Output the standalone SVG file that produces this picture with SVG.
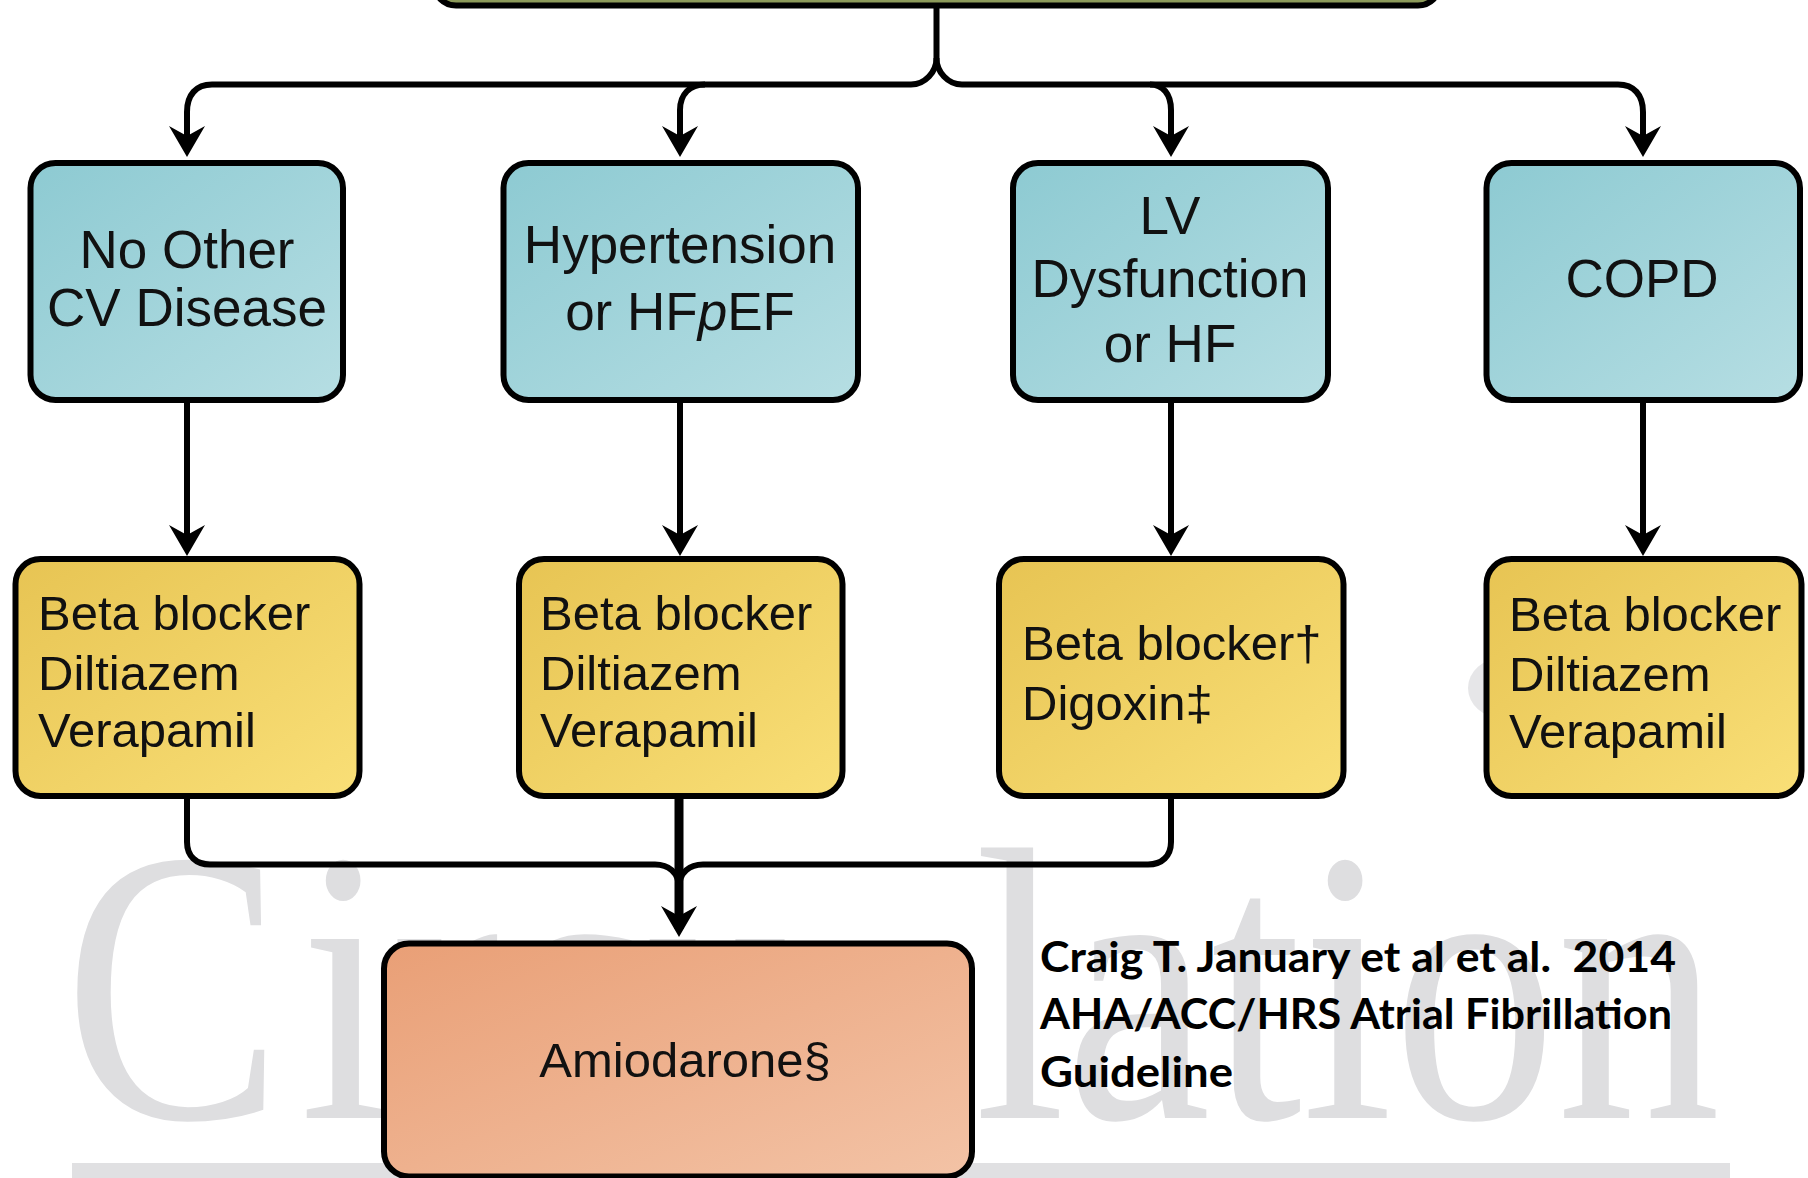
<svg xmlns="http://www.w3.org/2000/svg" width="1808" height="1178" viewBox="0 0 1808 1178">
  <defs>
    <linearGradient id="gBlue" x1="0" y1="0" x2="1" y2="1">
      <stop offset="0" stop-color="#8dcad2"/>
      <stop offset="1" stop-color="#b6dee3"/>
    </linearGradient>
    <linearGradient id="gYellow" x1="0" y1="0" x2="1" y2="1">
      <stop offset="0" stop-color="#e7c453"/>
      <stop offset="1" stop-color="#f9df77"/>
    </linearGradient>
    <linearGradient id="gOrange" x1="0" y1="0" x2="1" y2="1">
      <stop offset="0" stop-color="#e99f76"/>
      <stop offset="1" stop-color="#f3c3a6"/>
    </linearGradient>
    <marker id="arrow" viewBox="-34 -20 36 40" refX="-8" refY="0" markerWidth="36" markerHeight="40" markerUnits="userSpaceOnUse" orient="auto">
      <path d="M0,0 L-31,-18 L-21,0 L-31,18 Z" fill="#000"/>
    </marker>
    <style>
      .box { stroke: #000; stroke-width: 6; }
      .blue { fill: url(#gBlue); }
      .yellow { fill: url(#gYellow); }
      .orange { fill: url(#gOrange); }
      .lbl { font-family: "Liberation Sans", Arial, sans-serif; font-size: 53px; fill: #111; text-anchor: middle; }
      .drug { font-family: "Liberation Sans", Arial, sans-serif; font-size: 49px; fill: #111; }
      .wire { fill: none; stroke: #000; stroke-width: 6; }
      .cite { font-family: Lato, "Liberation Sans", sans-serif; font-weight: 700; font-size: 42px; fill: #000; }
      .mark { font-family: "Liberation Serif", "Times New Roman", serif; font-size: 390px; fill: #dedee0; }
    </style>
  </defs>

  <rect width="1808" height="1178" fill="#fff"/>

  <!-- faint journal watermark in the background -->
  <g id="watermark">
    <text class="mark" transform="translate(0,1118) scale(0.84,1)"><tspan x="76" y="0">C</tspan><tspan x="357" y="0">i</tspan><tspan>rcu</tspan><tspan x="1160" y="0">lation</tspan></text>
    <ellipse cx="1502" cy="688" rx="34" ry="30" fill="#e6e6e8"/>
    <rect x="72" y="1163" width="1658" height="15" fill="#e0e0e2"/>
  </g>

  <!-- top decision box (cut by the page edge) -->
  <g id="top-box">
    <rect class="box" x="434" y="-40" width="1006" height="45.5" rx="22" fill="#8c9a5a"/>
  </g>

  <!-- connectors -->
  <g id="connectors">
    <path class="wire" d="M936.5,8 V58 C936.5,72 925,84.5 911,84.5 H212 C196,84.5 187,95 187,112 V149" marker-end="url(#arrow)"/>
    <path class="wire" d="M936.5,58 C936.5,72 948,84.5 962,84.5 H1618 C1634,84.5 1643,95 1643,112 V149" marker-end="url(#arrow)"/>
    <path class="wire" d="M705,84.5 C690,84.5 680,94 680,110 V149" marker-end="url(#arrow)"/>
    <path class="wire" d="M1150,84.5 C1163,84.5 1171,94 1171,110 V149" marker-end="url(#arrow)"/>

    <path class="wire" d="M187,400 V548" marker-end="url(#arrow)"/>
    <path class="wire" d="M680,400 V548" marker-end="url(#arrow)"/>
    <path class="wire" d="M1171,400 V548" marker-end="url(#arrow)"/>
    <path class="wire" d="M1643,400 V548" marker-end="url(#arrow)"/>

    <path class="wire" d="M187,796 V842 C187,856 196,864.5 210,864.5 H655 C668,864.5 679,872 679,888"/>
    <path class="wire" d="M1171,796 V842 C1171,856 1162,864.5 1148,864.5 H703 C690,864.5 679,872 679,888"/>
    <path class="wire" d="M679,796 V929" style="stroke-width:9" marker-end="url(#arrow)"/>
  </g>

  <!-- first row: comorbidity -->
  <g id="no-other-cv">
    <rect class="box blue" x="30.5" y="163" width="312.5" height="237" rx="25"/>
    <text class="lbl" x="187" y="268">No Other</text>
    <text class="lbl" x="187" y="326">CV Disease</text>
  </g>
  <g id="hypertension">
    <rect class="box blue" x="503.5" y="163" width="354.5" height="237" rx="25"/>
    <text class="lbl" x="680" y="263">Hypertension</text>
    <text class="lbl" x="680" y="330">or HF<tspan font-style="italic">p</tspan>EF</text>
  </g>
  <g id="lv-dysfunction">
    <rect class="box blue" x="1013" y="163" width="315" height="237" rx="25"/>
    <text class="lbl" x="1170" y="234">LV</text>
    <text class="lbl" x="1170" y="297">Dysfunction</text>
    <text class="lbl" x="1170" y="362">or HF</text>
  </g>
  <g id="copd">
    <rect class="box blue" x="1486.5" y="163" width="313.5" height="237" rx="25"/>
    <text class="lbl" x="1642" y="297">COPD</text>
  </g>

  <!-- second row: rate control drugs -->
  <g id="drugs-1">
    <rect class="box yellow" x="15.5" y="559" width="344" height="237" rx="25"/>
    <text class="drug" x="38" y="630">Beta blocker</text>
    <text class="drug" x="38" y="690">Diltiazem</text>
    <text class="drug" x="38" y="747">Verapamil</text>
  </g>
  <g id="drugs-2">
    <rect class="box yellow" x="519" y="559" width="323.5" height="237" rx="25"/>
    <text class="drug" x="540" y="630">Beta blocker</text>
    <text class="drug" x="540" y="690">Diltiazem</text>
    <text class="drug" x="540" y="747">Verapamil</text>
  </g>
  <g id="drugs-3">
    <rect class="box yellow" x="999" y="559" width="344.5" height="237" rx="25"/>
    <text class="drug" x="1022" y="660">Beta blocker†</text>
    <text class="drug" x="1022" y="720">Digoxin‡</text>
  </g>
  <g id="drugs-4">
    <rect class="box yellow" x="1486.5" y="559" width="315" height="237" rx="25"/>
    <text class="drug" x="1509" y="631">Beta blocker</text>
    <text class="drug" x="1509" y="691">Diltiazem</text>
    <text class="drug" x="1509" y="748">Verapamil</text>
  </g>

  <!-- third row -->
  <g id="amiodarone">
    <rect class="box orange" x="384" y="943.5" width="588" height="233" rx="25"/>
    <text class="drug" x="685" y="1077" text-anchor="middle">Amiodarone§</text>
  </g>

  <!-- source reference -->
  <g id="citation">
    <text class="cite" x="1040" y="972" textLength="636" lengthAdjust="spacingAndGlyphs" style="white-space:pre">Craig T. January et al et al.  2014</text>
    <text class="cite" x="1040" y="1029" textLength="632" lengthAdjust="spacingAndGlyphs">AHA/ACC/HRS Atrial Fibrillation</text>
    <text class="cite" x="1040" y="1087" textLength="193" lengthAdjust="spacingAndGlyphs">Guideline</text>
  </g>
</svg>
